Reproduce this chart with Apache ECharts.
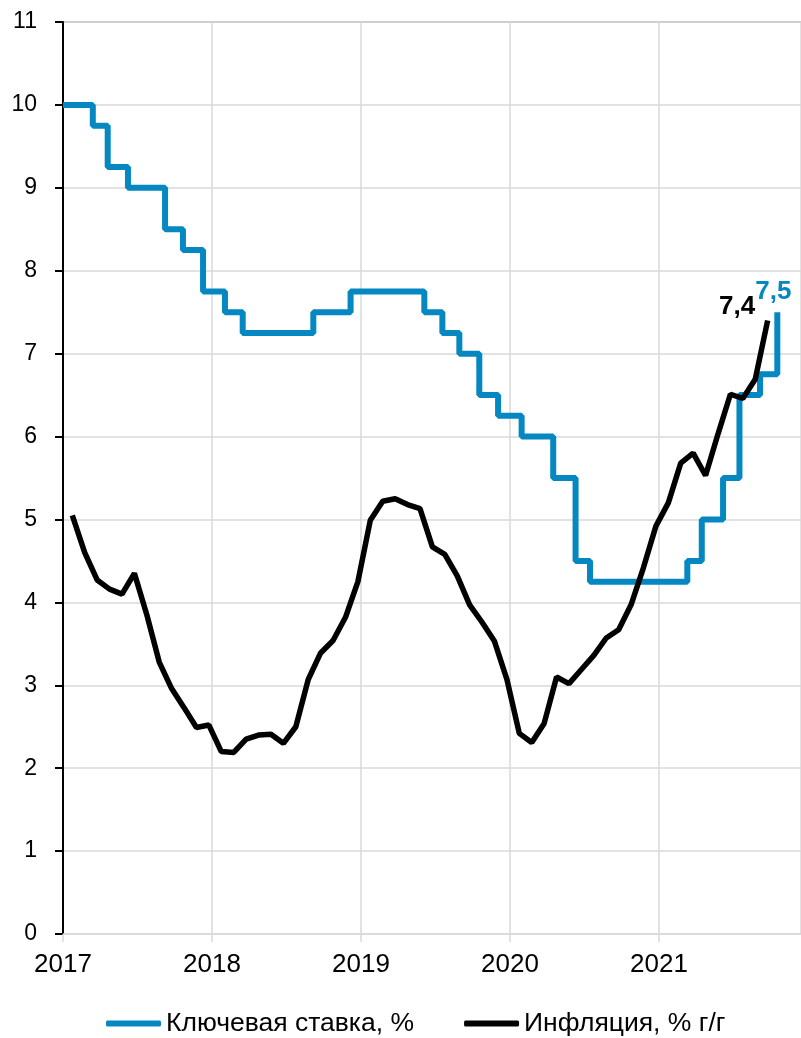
<!DOCTYPE html>
<html>
<head>
<meta charset="utf-8">
<script src="https://cdn.jsdelivr.net/npm/echarts@6/dist/echarts.min.js"></script>
<style>
  html, body { margin: 0; padding: 0; background: #fff; }
  #main { width: 801px; height: 1038px; }
</style>
</head>
<body>
<div id="main"></div>
<script>
// ключевая ставка: точки изменения [год (дробный), ставка]
var rateX = [2017.0, 2017.2, 2017.30, 2017.436, 2017.685, 2017.805, 2017.94,
             2018.087, 2018.206, 2018.68, 2018.93,
             2019.425, 2019.546, 2019.66, 2019.794, 2019.92,
             2020.078, 2020.29, 2020.44, 2020.537,
             2021.19, 2021.287, 2021.43, 2021.54, 2021.678, 2021.794];
var rateY = [10, 9.75, 9.25, 9.0, 8.5, 8.25, 7.75,
             7.5, 7.25, 7.5, 7.75,
             7.5, 7.25, 7.0, 6.5, 6.25,
             6.0, 5.5, 4.5, 4.25,
             4.5, 5.0, 5.5, 6.5, 6.75, 7.5];

// инфляция, % г/г, помесячно с января 2017
var inflStart = 2017;
var inflY = [5.05, 4.60, 4.27, 4.16, 4.10, 4.35, 3.85, 3.28, 2.96, 2.73, 2.49, 2.52,
             2.20, 2.19, 2.35, 2.40, 2.41, 2.30, 2.50, 3.07, 3.39, 3.54, 3.82, 4.25,
             4.99, 5.22, 5.25, 5.18, 5.13, 4.67, 4.58, 4.32, 3.97, 3.76, 3.53, 3.07,
             2.42, 2.31, 2.54, 3.10, 3.02, 3.19, 3.36, 3.57, 3.67, 3.97, 4.42, 4.92,
             5.20, 5.68, 5.80, 5.53, 6.03, 6.51, 6.46, 6.69, 7.40];

var years = [2017, 2018, 2019, 2020, 2021];
var seriesNames = ['Ключевая ставка, %', 'Инфляция, % г/г'];
var blue = '#0587c1';
var font = '"Liberation Sans", Arial, sans-serif';

function fmt(v) { return String(v).replace('.', ','); }

var rateData = rateX.map(function (x, i) { return [x, rateY[i]]; });
var inflData = inflY.map(function (v, i) { return [inflStart + (i + 0.75) / 12, v]; });

// подпись у последней точки ряда
function lastMark(data, color, pos, dist, off) {
    var last = data[data.length - 1];
    return {
        symbol: 'circle',
        symbolSize: 1,
        itemStyle: { color: 'rgba(0,0,0,0)' },
        silent: true,
        label: {
            show: true, position: pos, distance: dist, offset: off,
            formatter: function (p) { return fmt(p.value); },
            color: color, fontWeight: 'bold', fontSize: 26, fontFamily: font
        },
        data: [{ coord: last, value: last[1] }]
    };
}

var gridColors = [];
for (var k = 0; k < 11; k++) gridColors.push('#d9d9d9');
gridColors.push('#bfbfbf');

var myChart = echarts.init(document.getElementById('main'));
var option = {
    animation: false,
    grid: { left: 63, right: 0, top: 22, bottom: 104 },
    legend: {
        left: 101, top: 1005,
        itemWidth: 55, itemHeight: 6, itemGap: 50,
        icon: 'roundRect',
        textStyle: { fontSize: 26.5, color: '#000', fontFamily: font },
        data: seriesNames
    },
    xAxis: {
        type: 'value',
        min: years[0],
        max: 2021.953,
        interval: 1,
        axisLine: { lineStyle: { color: '#d9d9d9', width: 1.5 } },
        axisTick: { show: true, length: 8, lineStyle: { color: '#d9d9d9', width: 1.5 } },
        axisLabel: {
            margin: 18, fontSize: 26, color: '#000', fontFamily: font,
            showMaxLabel: false,
            formatter: function (v) { return years.indexOf(v) >= 0 ? String(v) : ''; }
        },
        splitLine: { show: true, lineStyle: { color: '#d9d9d9', width: 1.5 } }
    },
    yAxis: {
        type: 'value',
        min: 0, max: 11, interval: 1,
        axisLine: { show: true, lineStyle: { color: '#000', width: 2 } },
        axisTick: { show: true, length: 8, lineStyle: { color: '#000', width: 2 } },
        axisLabel: { margin: 26, fontSize: 23, color: '#000', fontFamily: font },
        splitLine: { show: true, lineStyle: { color: gridColors, width: 1.5 } }
    },
    series: [
        {
            name: seriesNames[0],
            type: 'line',
            step: 'end',
            data: rateData,
            symbol: 'none',
            color: blue,
            lineStyle: { width: 6, color: blue },
            markPoint: lastMark(rateData, blue, 'top', 7, [-4, 0]),
            z: 2
        },
        {
            name: seriesNames[1],
            type: 'line',
            data: inflData,
            symbol: 'none',
            color: '#000',
            lineStyle: { width: 5.5, color: '#000' },
            markPoint: lastMark(inflData, '#000', 'left', 12, [0, -14]),
            z: 3
        }
    ]
};
myChart.setOption(option);
</script>
</body>
</html>
